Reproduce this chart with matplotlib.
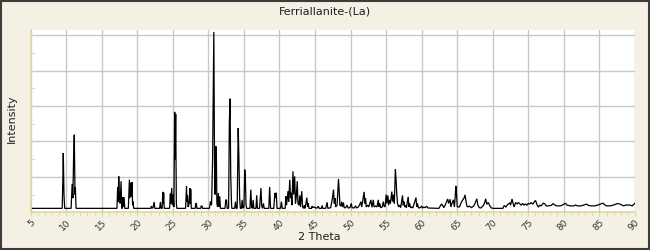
import matplotlib

matplotlib.use("Agg")
import matplotlib.pyplot as plt
from matplotlib.ticker import MultipleLocator

TITLE = "Ferriallanite-(La)"
X_LABEL = "2 Theta"
Y_LABEL = "Intensity"

# diffraction profile (2-theta in degrees, intensity in % of full scale)
two_theta = [
    5.0, 9.45, 9.55, 9.6, 9.65, 9.7, 9.8,
    10.7, 10.85, 10.95, 11.05, 11.15, 11.25, 11.3, 11.4,
    17.15, 17.25, 17.32, 17.4, 17.5, 17.6, 17.73, 17.82, 17.9, 17.96, 18.05, 18.15, 18.25,
    18.75, 18.9, 18.98, 19.1, 19.18, 19.27, 19.35, 19.42, 19.5,
    21.9, 22.0, 22.1, 22.25, 22.37, 22.47,
    23.15, 23.26, 23.35, 23.5, 23.6, 23.65, 23.72, 23.8,
    24.55, 24.66, 24.73, 24.85, 24.95, 25.05, 25.15, 25.27, 25.34, 25.41, 25.5, 25.58,
    26.8, 26.93, 27.0, 27.07, 27.15, 27.25, 27.32, 27.4, 27.47, 27.52, 27.6,
    28.15, 28.25, 28.3, 28.4, 28.9, 29.0, 29.1, 29.2,
    30.15, 30.3, 30.45, 30.6, 30.77, 30.88, 30.95, 31.05, 31.12, 31.2, 31.3, 31.4, 31.5, 31.6, 31.7,
    32.35, 32.45, 32.55, 32.65, 32.85, 32.95, 33.05, 33.15, 33.25, 33.3, 33.7, 33.82, 33.92,
    34.05, 34.2, 34.3, 34.4, 34.5, 34.65, 34.75, 34.85, 35.0, 35.12, 35.2, 35.3, 35.4,
    35.85, 35.97, 36.08, 36.2, 36.3, 36.4, 36.7, 36.8, 36.9,
    37.2, 37.4, 37.5, 37.6, 37.75, 37.85,
    38.5, 38.62, 38.75, 39.2, 39.35, 39.45, 39.55, 39.65,
    40.15, 40.27, 40.4, 40.8, 40.9, 41.0, 41.2, 41.3, 41.45, 41.55, 41.65, 41.75,
    41.9, 42.0, 42.14, 42.25, 42.35, 42.5, 42.6, 42.75, 42.85, 42.95, 43.13, 43.25,
    43.4, 43.5, 43.6, 43.85, 43.95, 44.05, 44.15,
    44.5, 44.6, 44.7, 44.9, 45.1, 45.3, 45.45, 45.6, 45.9, 46.0, 46.1, 46.5, 46.7, 46.8, 47.0,
    47.2, 47.45, 47.6, 47.7, 47.8, 47.9, 48.1, 48.3, 48.4, 48.5, 48.65, 48.75, 48.85,
    49.0, 49.1, 49.3, 49.5, 49.65, 49.9, 50.1, 50.2, 50.5, 50.7, 50.85,
    51.1, 51.3, 51.45, 51.55, 51.65, 51.9, 52.0, 52.1, 52.2, 52.4, 52.55, 52.85, 53.0,
    53.2, 53.3, 53.5, 53.7, 53.9, 54.0, 54.1, 54.25, 54.45, 54.6, 54.7, 54.85,
    55.0, 55.1, 55.25, 55.35, 55.5, 55.6, 55.8, 55.9, 56.05, 56.15, 56.3, 56.4, 56.5,
    56.6, 56.75, 56.9, 57.05, 57.3, 57.4, 57.5, 57.6, 57.75, 57.85, 58.1, 58.2, 58.3,
    58.45, 58.6, 58.75, 59.2, 59.3, 59.4, 59.55, 59.8, 60.0, 60.1,
    60.3, 60.5, 60.7, 60.9, 62.4, 62.6, 62.8, 62.95, 63.1, 63.3, 63.5, 63.65, 63.8,
    64.0, 64.1, 64.3, 64.45, 64.6, 64.7, 64.8, 64.9, 65.0, 65.3, 65.5, 65.7, 65.95,
    66.1, 66.2, 66.35, 66.5, 66.7, 67.0, 67.3, 67.5, 67.75, 67.9, 68.1, 68.3, 68.6,
    68.8, 69.0, 69.15, 69.35, 69.6, 69.8, 70.1, 71.4, 71.6, 71.85, 72.0, 72.2, 72.4,
    72.5, 72.7, 72.85, 73.0, 73.2, 73.4, 73.6, 73.8, 74.0, 74.2, 74.4, 74.6, 74.8,
    75.0, 75.2, 75.4, 75.6, 76.0, 76.2, 76.4, 76.6, 76.8, 77.1, 77.3, 77.5, 77.8,
    78.2, 78.5, 78.7, 79.0, 79.5, 79.8, 80.0, 80.2, 80.4, 80.9, 81.4, 81.6, 81.9,
    82.4, 82.8, 83.2, 83.4, 83.8, 84.3, 84.8, 85.1, 85.5, 85.7, 86.0, 86.5, 87.0,
    87.5, 87.9, 88.1, 88.4, 88.7, 89.2, 89.6, 90.0,
]
intensity = [
    2.2, 2.2, 20, 33.5, 22, 10, 2.2,
    2.2, 16, 8, 30, 43.8, 10, 14, 2.2,
    2.2, 14, 6, 20.3, 8, 5, 17.5, 2.2, 2.2, 8.5, 3, 8.5, 2.2,
    2.2, 18.4, 8, 16.7, 9, 17, 4, 6, 2.2,
    2.2, 3.5, 2.2, 3, 5.8, 2.2,
    2.2, 5.8, 2.2, 2.2, 11.5, 5, 11, 2.2,
    2.2, 10.5, 5, 13.7, 4, 10, 3, 56.7, 30, 55.5, 5, 2.2,
    2.2, 14.7, 6, 9.5, 3, 4, 7, 13.7, 5, 13, 2.2,
    2.2, 5, 5, 2.2, 2.2, 3.5, 3.5, 2.2,
    2.2, 6.2, 4, 30, 101.9, 20, 10, 37.3, 36, 5, 3, 10.9, 3, 9, 2.2,
    2.2, 7, 7, 2.2, 2.2, 50, 64.2, 20, 6, 2.2, 2.2, 6, 2.2,
    2.2, 47.6, 30, 8, 2.2, 2.2, 7, 2.2, 3, 24.1, 20, 4, 2.2,
    2.2, 12.8, 3, 2.2, 7, 2.2, 2.2, 9.6, 2.2,
    2.2, 13.7, 4, 2.2, 5, 2.2,
    2.2, 14.3, 2.2, 2.2, 10.9, 8, 11, 2.2,
    2.2, 6, 2.2, 2.2, 9, 4, 11.9, 6, 18.4, 8, 11, 4,
    23.1, 10, 20.3, 5, 8, 17.5, 5, 4, 9.5, 3, 11.9, 3,
    2.2, 4, 2.2, 8.3, 3, 5, 2.2,
    2.2, 3.5, 2.6, 3, 2.4, 2.4, 3.4, 2.2, 2.2, 3.8, 2.2, 2.2, 5.6, 2.2, 2.4,
    2.6, 8, 12.8, 5, 8, 3, 4, 18.8, 12, 4, 3.5, 6, 3,
    5.5, 2.5, 2.6, 4, 2.4, 2.6, 5, 2.6, 2.4, 3.6, 2.4,
    3, 4.5, 6, 3, 5, 11.5, 5, 8, 3, 4, 3, 7, 2.8,
    7, 3, 3.5, 3, 7, 3, 5, 2.5, 3, 6, 3.5, 3,
    10, 5, 9.5, 4, 7, 5, 11.7, 6, 10, 5, 24.3, 18, 10,
    5, 3, 4, 2.6, 9.5, 4, 6, 3, 4, 2.5, 8.7, 3, 5,
    2.5, 3, 2.4, 8.3, 3, 5, 2.4, 2.6, 3.5, 2.4,
    2.9, 2.6, 3.4, 2.4, 2.2, 3.5, 4.7, 3.8, 2.6, 4, 6, 7.5, 5,
    7.3, 3, 5.5, 7, 3, 8, 14.9, 10, 3, 3, 5, 6.5, 8,
    9.8, 7, 3.5, 3, 3.5, 2.6, 3.5, 5, 7.6, 4, 2.6, 2.4, 3.5,
    4.8, 7.6, 4.5, 5.5, 3.5, 2.4, 2.2, 2.2, 3.8, 2.9, 4, 4.7, 5.4,
    4, 7.5, 5, 3, 5.5, 4.7, 5.5, 4.7, 4, 5, 4, 4.7, 4,
    5, 4.7, 5.5, 4.5, 6.7, 4.5, 2.9, 4, 3.6, 5.1, 4.8, 3.6, 3.6,
    3.9, 4.9, 4.1, 3.6, 3.6, 4.1, 4.6, 5.1, 4.1, 3.6, 3.6, 4.1, 3.6,
    3.6, 4.1, 4.6, 3.9, 3.6, 3.6, 4.1, 4.6, 5.1, 4.3, 3.6, 3.6, 4.1,
    4.9, 4.6, 4.1, 3.6, 4.1, 4.1, 3.6, 5.1,
]

BG = "#f4f1e4"
AXIS = "#e0d79c"
GRID = "#c8c8c8"
TEXT = "#1e1e1e"

fig = plt.figure(figsize=(6.5, 2.5), dpi=100, facecolor=BG)
# dark outer frame like the original widget
fig.patches.append(plt.Rectangle((0.0015, 0.004), 0.997, 0.992, transform=fig.transFigure,
                                 fill=False, edgecolor="#3c3c3c", linewidth=1.5))
ax = fig.add_axes([0.047, 0.151, 0.930, 0.729])
ax.set_facecolor("white")

ax.plot(two_theta, intensity, color="black", linewidth=0.9, solid_joinstyle="miter")

ax.set_xlim(5, 90)
ax.set_ylim(0, 103)
ax.xaxis.set_major_locator(MultipleLocator(5))
ax.xaxis.set_minor_locator(MultipleLocator(1))
ax.yaxis.set_major_locator(MultipleLocator(20))
ax.yaxis.set_minor_locator(MultipleLocator(10))
ax.set_yticklabels([])
ax.grid(True, which="major", color=GRID, linewidth=1.0)
ax.set_axisbelow(True)

for side in ("top", "right"):
    ax.spines[side].set_visible(False)
for side in ("left", "bottom"):
    ax.spines[side].set_color(AXIS)
    ax.spines[side].set_linewidth(1.2)

ax.tick_params(axis="x", which="both", direction="out", color=AXIS, length=3,
               labelsize=6.5, labelcolor="#333333", pad=1)
ax.tick_params(axis="y", which="both", direction="in", color=AXIS, length=3, labelleft=False)
for lbl in ax.get_xticklabels():
    lbl.set_rotation(45)
    lbl.set_ha("right")
    lbl.set_va("top")
    lbl.set_rotation_mode("anchor")

fig.text(0.5, 0.952, TITLE, ha="center", va="center", fontsize=8, color=TEXT)
fig.text(0.492, 0.052, X_LABEL, ha="center", va="center", fontsize=8, color=TEXT)
fig.text(0.018, 0.525, Y_LABEL, ha="center", va="center", rotation=90, fontsize=8, color=TEXT)

fig.savefig("out.png", dpi=100, facecolor=BG)
